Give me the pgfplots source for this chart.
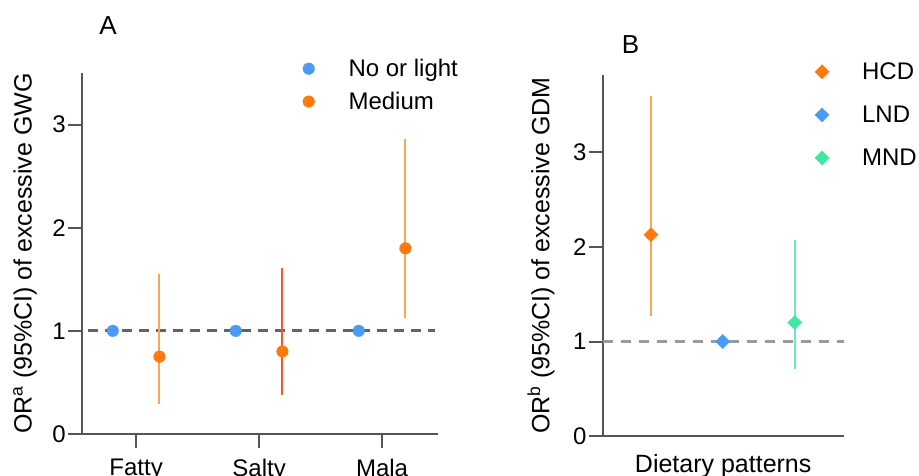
\documentclass[border=0pt]{standalone}
\usepackage{fontspec}
\setmainfont{Liberation Sans}
\usepackage{pgfplots}
\pgfplotsset{compat=1.18}
\definecolor{cblue}{HTML}{4A9BF5}
\definecolor{corange}{HTML}{FF7A0A}
\definecolor{cilight}{HTML}{FFA54F}
\definecolor{cired}{HTML}{F5592A}
\definecolor{cgreen}{HTML}{3FE8A4}
\definecolor{cigreen}{HTML}{6DEDB8}
\definecolor{axgray}{HTML}{555555}
\definecolor{dashA}{HTML}{636363}
\definecolor{dashB}{HTML}{9A9A9A}
\newcommand{\bigf}{\fontsize{24}{27}\selectfont}
\newcommand{\labf}{\fontsize{25}{28}\selectfont}
\pgfplotsset{
  common/.style={
    scale only axis,
    axis lines=left,
    axis line style={-, draw=axgray, line width=2pt},
    every tick/.style={draw=axgray, line width=2pt},
    tick align=outside,
    major tick length=14pt,
    ymin=0,
    ytick={0,1,2,3},
    /pgf/number format/assume math mode=true,
    tick label style={font=\bigf, inner sep=2pt},
    clip=false,
    legend cell align=left,
    legend image code/.code={\draw[#1] plot coordinates {(0pt,0pt)};},
  },
}
\begin{document}
\begin{tikzpicture}[x=1pt,y=1pt]
\path[use as bounding box] (0,0) rectangle (919,475);
% Panel A
\begin{axis}[common,
  at={(82pt,41pt)}, anchor=south west,
  width=356pt, height=361pt,
  xmin=-0.44, xmax=2.455, ymax=3.5,
  xtick={0,1,2}, xticklabels={Fatty,Salty,Mala},
  xticklabel style={yshift=-9pt},
  ylabel={OR\textsuperscript{a} (95\%CI) of excessive GWG},
  every axis y label/.style={at={(axis description cs:-0.16,0.5)}, rotate=90, anchor=center, font=\labf},
  legend style={draw=none, fill=none, at={(axis description cs:0.62,1.047)}, anchor=north west,
    font=\bigf, row sep=8pt, inner sep=0pt,
    nodes={inner sep=3pt}, column sep=31pt},
]
\addplot[dashA, line width=3pt, dash pattern=on 10pt off 7pt, forget plot] coordinates {(-0.39,1) (2.43,1)};
\addplot[cilight, line width=2pt, forget plot] coordinates {(0.19,0.29) (0.19,1.55)};
\addplot[cired, line width=2pt, forget plot] coordinates {(1.19,0.38) (1.19,1.61)};
\addplot[cilight, line width=2pt, forget plot] coordinates {(2.19,1.12) (2.19,2.86)};
\addplot[cblue, only marks, mark=*, mark size=5.8pt, mark options={draw=cblue, fill=cblue, line width=0.4pt}] coordinates {(-0.19,1) (0.81,1) (1.81,1)};
\addlegendentry{No or light}
\addplot[corange, only marks, mark=*, mark size=5.8pt, mark options={draw=corange, fill=corange, line width=0.4pt}] coordinates {(0.19,0.75) (1.19,0.80) (2.19,1.80)};
\addlegendentry{Medium}
\end{axis}
\node[font=\fontsize{26}{29}\selectfont] at (108,449) {A};
% Panel B
\begin{axis}[common,
  at={(602.7pt,39pt)}, anchor=south west,
  width=241pt, height=361pt,
  xmin=-0.67, xmax=2.68, ymax=3.82,
  xtick=\empty,
  xlabel={Dietary patterns},
  every axis x label/.style={at={(axis description cs:0.5,0)}, anchor=north, yshift=-15pt, font=\labf},
  ylabel={OR\textsuperscript{b} (95\%CI) of excessive GDM},
  every axis y label/.style={at={(axis description cs:-0.256,0.5)}, rotate=90, anchor=center, font=\labf},
  legend style={draw=none, fill=none, at={(axis description cs:0.88,1.043)}, anchor=north west,
    font=\bigf, row sep=19pt, inner sep=0pt,
    nodes={inner sep=3pt}, column sep=30pt},
]
\addplot[dashB, line width=3pt, dash pattern=on 10pt off 8pt, forget plot] coordinates {(-0.67,1) (2.68,1)};
\addplot[cilight, line width=2pt, forget plot] coordinates {(0,1.27) (0,3.60)};
\addplot[cigreen, line width=2pt, forget plot] coordinates {(2,0.71) (2,2.07)};
\addplot[corange, only marks, mark=square*, mark size=5pt, mark options={draw=corange, fill=corange, rotate=45, line width=0.4pt}] coordinates {(0,2.13)};
\addlegendentry{HCD}
\addplot[cblue, only marks, mark=square*, mark size=5pt, mark options={draw=cblue, fill=cblue, rotate=45, line width=0.4pt}] coordinates {(1,1.0)};
\addlegendentry{LND}
\addplot[cgreen, only marks, mark=square*, mark size=5pt, mark options={draw=cgreen, fill=cgreen, rotate=45, line width=0.4pt}] coordinates {(2,1.20)};
\addlegendentry{MND}
\end{axis}
\node[font=\fontsize{26}{29}\selectfont] at (630.5,430) {B};
\end{tikzpicture}
\end{document}
